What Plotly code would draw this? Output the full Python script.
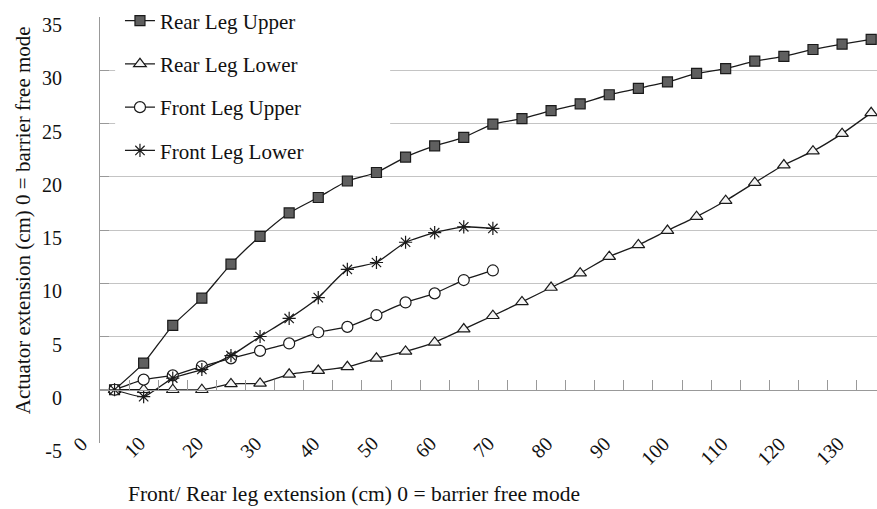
import plotly.graph_objects as go

# category labels (x: front/rear leg extension, every 5 cm)
categories = list(range(0, 135, 5))
label_values = list(range(0, 135, 10))

rear_upper = [0, 2.5, 6.05, 8.6, 11.8, 14.4, 16.6, 18.05, 19.6, 20.4, 21.85, 22.9, 23.7,
              24.95, 25.45, 26.2, 26.85, 27.7, 28.3, 28.9, 29.7, 30.15, 30.85, 31.3,
              31.95, 32.45, 32.9]
rear_lower = [0, 0, 0, 0, 0.55, 0.6, 1.45, 1.8, 2.15, 2.95, 3.6, 4.45, 5.7, 6.95, 8.25,
              9.6, 10.95, 12.5, 13.6, 14.95, 16.25, 17.75, 19.45, 21.1, 22.4, 24.05, 26.0]
front_upper = [0, 0.95, 1.35, 2.2, 2.95, 3.65, 4.35, 5.4, 5.9, 7.0, 8.2, 9.05, 10.3, 11.2]
front_lower = [0, -0.65, 1.1, 1.9, 3.2, 5.0, 6.7, 8.65, 11.3, 11.95, 13.85, 14.75, 15.3, 15.15]

y_ticks = [-5, 0, 5, 10, 15, 20, 25, 30, 35]
y_ticktext = ["-5", "0", "5", "10", "15", "20", "25", "30", "35"]
y_grid = [5, 10, 15, 20, 25, 30]

FONT = "Liberation Serif, Times New Roman, serif"
LINE = "#1a1a1a"

idx = list(range(len(categories)))

fig = go.Figure()

def add(name, vals, symbol, fill, size, group):
    fig.add_trace(go.Scatter(
        x=idx[:len(vals)], y=vals, name=name, mode="lines+markers",
        legendgroup=group,
        line=dict(color=LINE, width=1.3, shape="spline", smoothing=0.5),
        marker=dict(symbol=symbol, size=size, color=fill,
                    line=dict(color=LINE, width=1.2)),
    ))

add("Rear Leg Upper", rear_upper, "square", "#5f5f5f", 10, "a")
add("Rear Leg Lower", rear_lower, "triangle-up", "#f4f4f4", 11, "b")
add("Front Leg Upper", front_upper, "circle", "#ffffff", 11, "c")
add("Front Leg Lower", front_lower, "asterisk-open", LINE, 11, "d")

# empty helper trace so the overlay axes (zero-line axis with ticks, gridlines) render
fig.add_trace(go.Scatter(x=[], y=[], xaxis="x2", yaxis="y2", showlegend=False,
                         hoverinfo="skip"))

xr = [-0.5, 26.2]
between = [i - 0.5 for i in idx]

annotations = [
    dict(text="Front/ Rear leg extension (cm) 0 = barrier free mode",
         xref="paper", yref="paper", x=0.327, y=-0.12, xanchor="center",
         yanchor="middle", showarrow=False, font=dict(size=21.5, family=FONT)),
    dict(text="Actuator extension (cm) 0 = barrier free mode",
         xref="paper", yref="paper", x=-0.099, y=0.523, xanchor="center",
         yanchor="middle", textangle=-90, showarrow=False,
         font=dict(size=21, family=FONT)),
]
# x category tick labels (every 10 cm), rotated like the original;
# placed in paper fractions of the category scale so the first one may sit left of the axis
for v in label_values:
    pos = categories.index(v) - 0.7
    annotations.append(dict(
        text=str(v), xref="paper", yref="paper",
        x=(pos - xr[0]) / (xr[1] - xr[0]), y=0.031,
        xanchor="right", yanchor="top", textangle=-45, showarrow=False,
        font=dict(size=20, family=FONT, color="#111")))

fig.update_layout(
    width=877, height=509,
    margin=dict(l=100, r=0, t=17, b=66),
    paper_bgcolor="white", plot_bgcolor="white",
    font=dict(family=FONT, size=20, color="#111"),
    showlegend=True,
    legend=dict(x=0.0257, y=1.039, xanchor="left", yanchor="top",
                bgcolor="rgba(0,0,0,0)", font=dict(size=21, family=FONT),
                tracegroupgap=13),
    xaxis=dict(range=xr, showticklabels=False, showgrid=False, zeroline=False,
               showline=False, ticks="", automargin=False),
    xaxis2=dict(range=xr, overlaying="x", anchor="free", position=0.125,
                tickmode="array", tickvals=between, ticks="inside", ticklen=10,
                tickcolor="#999", tickwidth=1, showline=True, linecolor="#999",
                linewidth=1, showticklabels=False, showgrid=False, zeroline=False,
                automargin=False),
    yaxis=dict(range=[-5, 35], tickmode="array", tickvals=y_ticks, ticktext=y_ticktext,
               ticks="inside", ticklen=9, tickcolor="#999", showline=True,
               linecolor="#999", linewidth=1, showgrid=False, zeroline=False,
               ticklabelstandoff=33, ticklabelshift=8, ticklabeloverflow="allow",
               tickfont=dict(size=20, family=FONT), automargin=False),
    yaxis2=dict(range=[-5, 35], overlaying="y", tickmode="array", tickvals=y_grid,
                showgrid=True, gridcolor="#c4c4c4", gridwidth=1, ticks="",
                showticklabels=False, showline=False, zeroline=False,
                automargin=False),
    shapes=[dict(type="rect", xref="x", yref="y", x0=0.02, x1=9.47, y0=21.3, y1=35,
                 fillcolor="white", line=dict(width=0), layer="between")],
    annotations=annotations,
)

fig.write_html("out.html", config={"displayModeBar": False},
               post_script="document.body.style.margin='0px';")
